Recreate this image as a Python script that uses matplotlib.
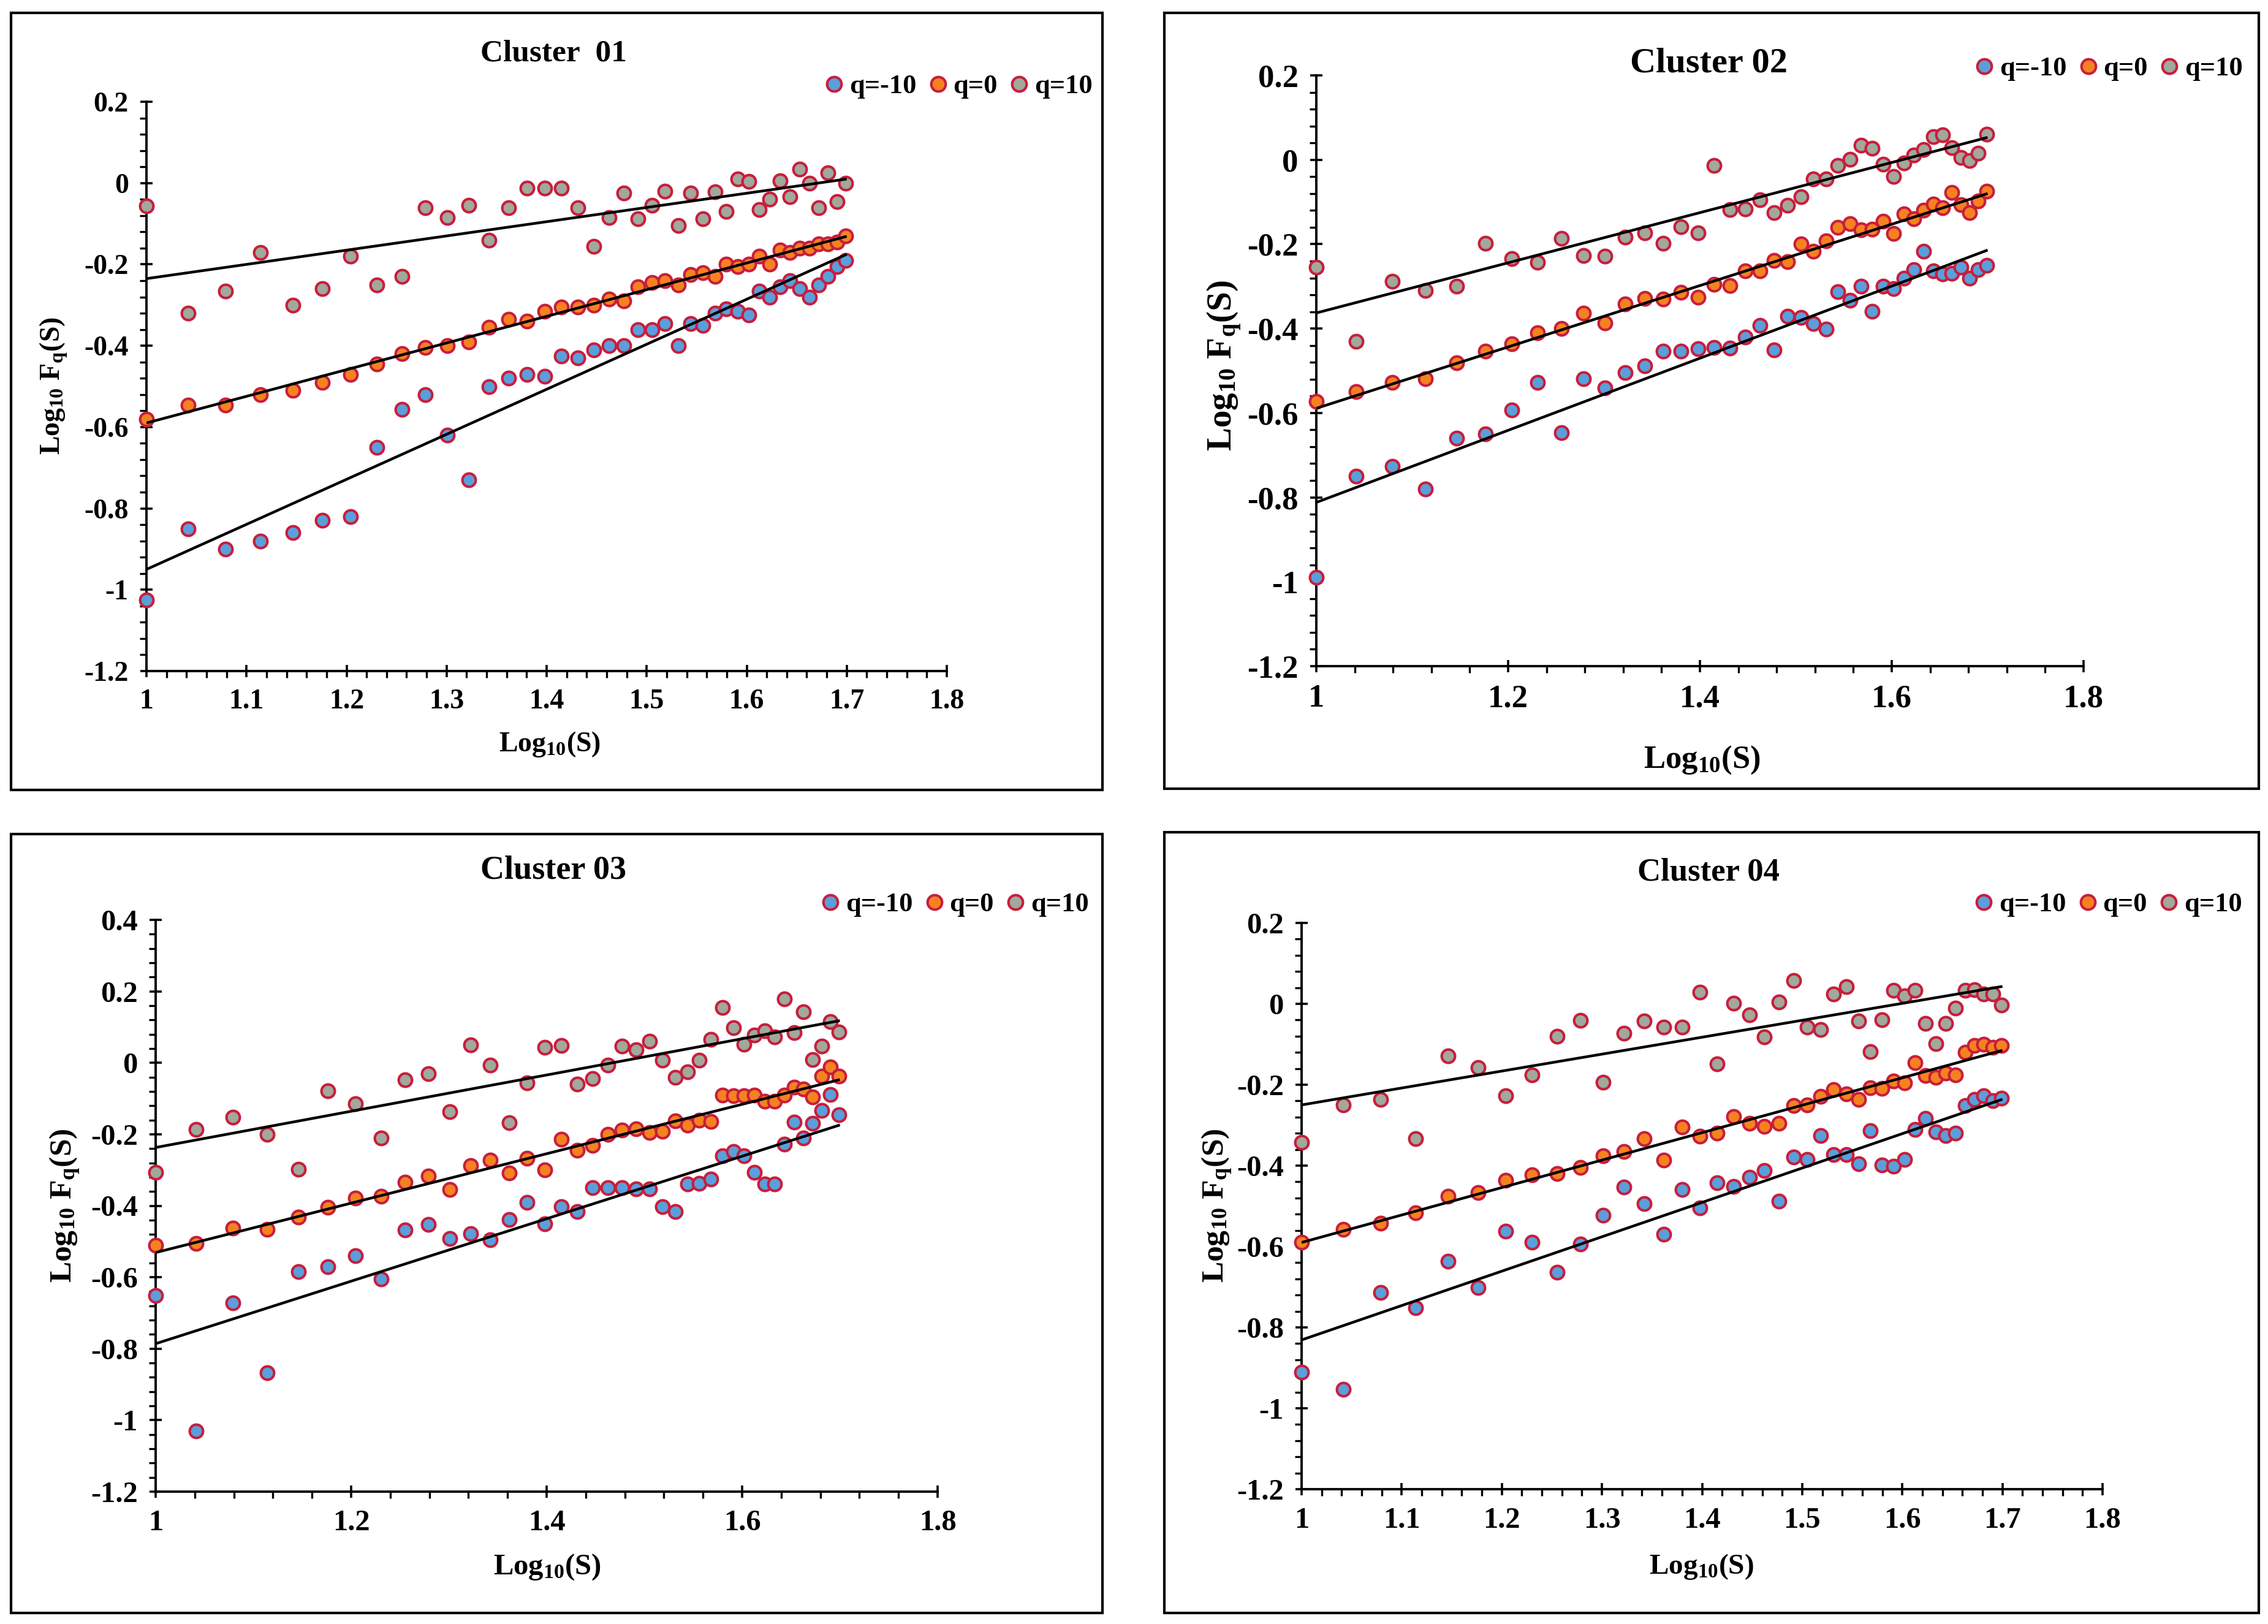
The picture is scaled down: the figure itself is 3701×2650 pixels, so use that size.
import numpy as np
import matplotlib
matplotlib.use("Agg")
import matplotlib.pyplot as plt
from matplotlib.patches import Rectangle
from matplotlib.lines import Line2D
from matplotlib.ticker import MultipleLocator, FuncFormatter

plt.rcParams['font.family'] = ['Liberation Serif', 'DejaVu Serif']
plt.rcParams['font.weight'] = 'bold'
plt.rcParams['axes.unicode_minus'] = False
plt.rcParams['mathtext.fontset'] = 'custom'
plt.rcParams['mathtext.rm'] = 'Liberation Serif:bold'
plt.rcParams['mathtext.it'] = 'Liberation Serif:italic:bold'
plt.rcParams['mathtext.bf'] = 'Liberation Serif:bold'

# ---------------- data ----------------
scales = [10, 11, 12, 13, 14, 15, 16, 17, 18, 19, 20, 21, 22, 23, 24, 25, 26, 27, 28, 29, 30,
          31, 32, 33, 34, 35, 36, 37, 38, 39, 40, 41, 42, 43, 44, 45, 46, 47, 48, 49, 50]
series_labels = ["q=-10", "q=0", "q=10"]
titles = ["Cluster  01", "Cluster 02", "Cluster 03", "Cluster 04"]

c1_qm10 = [-1.025, -0.85, -0.90, -0.88, -0.86, -0.83, -0.82, -0.65, -0.556, -0.52, -0.62, -0.73, -0.50, -0.48,
           -0.47, -0.475, -0.425, -0.43, -0.41, -0.40, -0.40, -0.36, -0.36, -0.345, -0.40, -0.345, -0.35, -0.32,
           -0.31, -0.315, -0.325, -0.265, -0.28, -0.255, -0.24, -0.26, -0.28, -0.25, -0.23, -0.205, -0.19]
c1_q0 = [-0.58, -0.546, -0.546, -0.52, -0.51, -0.49, -0.47, -0.445, -0.42, -0.405, -0.40, -0.39, -0.355, -0.335,
         -0.34, -0.315, -0.305, -0.305, -0.30, -0.285, -0.29, -0.255, -0.245, -0.24, -0.25, -0.225, -0.22, -0.23,
         -0.20, -0.205, -0.20, -0.18, -0.20, -0.165, -0.17, -0.16, -0.16, -0.15, -0.15, -0.145, -0.13]
c1_q10 = [-0.056, -0.32, -0.265, -0.17, -0.30, -0.26, -0.18, -0.25, -0.23, -0.06, -0.085, -0.055, -0.14, -0.06,
          -0.012, -0.012, -0.012, -0.06, -0.155, -0.085, -0.025, -0.088, -0.055, -0.02, -0.105, -0.025, -0.088,
          -0.022, -0.07, 0.01, 0.004, -0.065, -0.04, 0.005, -0.034, 0.034, 0.0, -0.06, 0.025, -0.046, 0.0]

c2_qm10 = [-0.99, -0.75, -0.727, -0.78, -0.66, -0.65, -0.593, -0.528, -0.646, -0.519, -0.541, -0.504, -0.488,
           -0.454, -0.454, -0.448, -0.445, -0.446, -0.42, -0.393, -0.45, -0.371, -0.373, -0.388, -0.401, -0.313,
           -0.333, -0.30, -0.359, -0.30, -0.305, -0.281, -0.26, -0.217, -0.264, -0.27, -0.269, -0.255, -0.281,
           -0.261, -0.25]
c2_q0 = [-0.573, -0.549, -0.528, -0.519, -0.481, -0.453, -0.436, -0.41, -0.40, -0.363, -0.386, -0.342, -0.329,
         -0.33, -0.314, -0.325, -0.295, -0.298, -0.264, -0.263, -0.239, -0.242, -0.20, -0.217, -0.192, -0.16,
         -0.152, -0.166, -0.164, -0.145, -0.175, -0.128, -0.14, -0.12, -0.105, -0.113, -0.077, -0.106, -0.125,
         -0.098, -0.075]
c2_q10 = [-0.255, -0.43, -0.288, -0.31, -0.30, -0.198, -0.234, -0.243, -0.186, -0.227, -0.229, -0.183, -0.173,
          -0.198, -0.158, -0.173, -0.014, -0.118, -0.117, -0.095, -0.126, -0.108, -0.087, -0.046, -0.046, -0.013,
          0.001, 0.034, 0.027, -0.01, -0.039, -0.007, 0.011, 0.024, 0.055, 0.059, 0.029, 0.005, -0.002, 0.016, 0.06]

c3_qm10 = [-0.651, -1.03, -0.671, -0.867, -0.585, -0.57, -0.539, -0.605, -0.468, -0.453, -0.491, -0.478, -0.495,
           -0.439, -0.39, -0.45, -0.403, -0.416, -0.35, -0.35, -0.35, -0.353, -0.353, -0.403, -0.416, -0.339,
           -0.337, -0.326, -0.26, -0.248, -0.26, -0.307, -0.339, -0.339, -0.228, -0.166, -0.211, -0.169, -0.133,
           -0.088, -0.145]
c3_q0 = [-0.511, -0.506, -0.463, -0.466, -0.432, -0.405, -0.379, -0.374, -0.334, -0.317, -0.354, -0.288, -0.273,
         -0.308, -0.267, -0.30, -0.214, -0.244, -0.231, -0.201, -0.189, -0.185, -0.195, -0.191, -0.162, -0.174,
         -0.161, -0.165, -0.09, -0.093, -0.093, -0.09, -0.108, -0.108, -0.09, -0.069, -0.073, -0.095, -0.037,
         -0.011, -0.037]
c3_q10 = [-0.307, -0.187, -0.152, -0.20, -0.298, -0.079, -0.115, -0.211, -0.047, -0.03, -0.136, 0.05, -0.006,
          -0.168, -0.057, 0.043, 0.049, -0.059, -0.044, -0.006, 0.047, 0.036, 0.06, 0.007, -0.04, -0.026, 0.007,
          0.065, 0.154, 0.098, 0.052, 0.077, 0.09, 0.072, 0.178, 0.085, 0.142, 0.009, 0.046, 0.115, 0.086]

c4_qm10 = [-0.911, -0.953, -0.713, -0.752, -0.636, -0.702, -0.562, -0.589, -0.664, -0.594, -0.522, -0.453, -0.494,
           -0.569, -0.459, -0.504, -0.442, -0.451, -0.429, -0.412, -0.488, -0.379, -0.385, -0.326, -0.372, -0.372,
           -0.396, -0.313, -0.398, -0.402, -0.385, -0.31, -0.284, -0.317, -0.326, -0.32, -0.252, -0.237, -0.227,
           -0.239, -0.233]
c4_q0 = [-0.589, -0.557, -0.543, -0.517, -0.475, -0.467, -0.436, -0.423, -0.419, -0.404, -0.376, -0.365, -0.333,
         -0.386, -0.305, -0.328, -0.319, -0.279, -0.296, -0.303, -0.296, -0.251, -0.25, -0.229, -0.212, -0.222,
         -0.236, -0.208, -0.209, -0.191, -0.196, -0.146, -0.177, -0.182, -0.171, -0.175, -0.119, -0.103, -0.10,
         -0.108, -0.103]
c4_q10 = [-0.343, -0.25, -0.236, -0.333, -0.129, -0.158, -0.228, -0.175, -0.08, -0.041, -0.194, -0.072, -0.042,
          -0.057, -0.057, 0.029, -0.148, 0.001, -0.027, -0.082, 0.005, 0.058, -0.057, -0.063, 0.024, 0.042, -0.042,
          -0.118, -0.039, 0.033, 0.02, 0.034, -0.048, -0.099, -0.048, -0.011, 0.033, 0.035, 0.024, 0.025, -0.003]

# fitted regression lines: value at log10(S)=1 and at log10(S)=1.7 (q=-10, q=0, q=10)
fit_x = [1.0, 1.7]
c1_fit_start = [-0.95, -0.59, -0.235]
c1_fit_end = [-0.175, -0.131, 0.01]
c2_fit_start = [-0.812, -0.589, -0.363]
c2_fit_end = [-0.214, -0.08, 0.053]
c3_fit_start = [-0.786, -0.531, -0.237]
c3_fit_end = [-0.174, -0.047, 0.118]
c4_fit_start = [-0.831, -0.59, -0.25]
c4_fit_end = [-0.236, -0.115, 0.043]

clusters = [
    ([c1_qm10, c1_q0, c1_q10], c1_fit_start, c1_fit_end),
    ([c2_qm10, c2_q0, c2_q10], c2_fit_start, c2_fit_end),
    ([c3_qm10, c3_q0, c3_q10], c3_fit_start, c3_fit_end),
    ([c4_qm10, c4_q0, c4_q10], c4_fit_start, c4_fit_end),
]

# ---------------- style / layout ----------------
W, H = 3701, 2650
face_colors = ["#5A9FDC", "#F5821F", "#A1A89C"]
edge_color = "#C81E3C"

layout = [
    dict(frame=(18, 21, 1799, 1289), ax=(239, 166, 1545, 1095), ylim=(-1.2, 0.2), xmaj=0.1, xmin=0.02,
         title=(903, 87, 37), leg=(1563, 141), xl=(897, 1215, 33), yl=(88, 630, 33), tick=33),
    dict(frame=(1900, 21, 3686, 1287), ax=(2148, 123, 3400, 1087), ylim=(-1.2, 0.2), xmaj=0.2, xmin=0.04,
         title=(2788, 104, 42), leg=(3440, 112), xl=(2777, 1240, 38), yl=(1998, 597, 41), tick=38),
    dict(frame=(18, 1361, 1799, 2632), ax=(254, 1501, 1530, 2434), ylim=(-1.2, 0.4), xmaj=0.2, xmin=0.04,
         title=(903, 1421, 39), leg=(1557, 1476), xl=(893, 2557, 35), yl=(106, 1967, 37), tick=35),
    dict(frame=(1900, 1358, 3686, 2632), ax=(2124, 1506, 3431, 2430), ylim=(-1.2, 0.2), xmaj=0.1, xmin=0.02,
         title=(2788, 1424, 38), leg=(3439, 1476), xl=(2776, 2557, 34), yl=(1986, 1967, 37), tick=35),
]

fig = plt.figure(figsize=(W / 100, H / 100), dpi=100)
fig.patch.set_facecolor("white")

x = np.log10(np.array(scales, dtype=float))


def fmt(v, pos):
    s = f"{v:.1f}".rstrip("0").rstrip(".")
    if s in ("-0", ""):
        s = "0"
    return s


for (series, fs, fe), title, L in zip(clusters, titles, layout):
    fx0, fy0, fx1, fy1 = L["frame"]
    fig.add_artist(Rectangle((fx0 / W, 1 - fy1 / H), (fx1 - fx0) / W, (fy1 - fy0) / H,
                             transform=fig.transFigure, fill=False, lw=3.0, ec="black", zorder=0))
    ax0, ay0, ax1, ay1 = L["ax"]
    ax = fig.add_axes([ax0 / W, 1 - ay1 / H, (ax1 - ax0) / W, (ay1 - ay0) / H])
    ax.set_facecolor("none")
    for sp in ("top", "right"):
        ax.spines[sp].set_visible(False)
    for sp in ("left", "bottom"):
        ax.spines[sp].set_linewidth(2.8)
    ax.set_xlim(1.0, 1.8)
    ax.set_ylim(*L["ylim"])
    ax.xaxis.set_major_locator(MultipleLocator(L["xmaj"]))
    ax.xaxis.set_minor_locator(MultipleLocator(L["xmin"]))
    ax.yaxis.set_major_locator(MultipleLocator(0.2))
    ax.yaxis.set_minor_locator(MultipleLocator(0.04))
    ax.xaxis.set_major_formatter(FuncFormatter(fmt))
    ax.yaxis.set_major_formatter(FuncFormatter(fmt))
    ax.tick_params(which="major", direction="inout", length=14, width=2.6, labelsize=L["tick"], pad=14)
    ax.tick_params(which="minor", direction="out", length=8, width=2.4)
    for lab in ax.get_xticklabels() + ax.get_yticklabels():
        lab.set_fontweight("bold")

    for ys, fc in zip(series, face_colors):
        ax.scatter(x, ys, s=245, facecolor=fc, edgecolor=edge_color, linewidth=3.0, zorder=3, clip_on=False)
    for y0, y1 in zip(fs, fe):
        ax.plot(fit_x, [y0, y1], color="black", lw=3.2, zorder=4, solid_capstyle="butt")

    tx, ty, tsz = L["title"]
    fig.text(tx / W, 1 - ty / H, title, ha="center", va="center", fontsize=tsz, fontweight="bold")
    xx, xy, xsz = L["xl"]
    fig.text(xx / W, 1 - xy / H, r"Log$_{\mathrm{10}}$(S)", ha="center", va="center", fontsize=xsz,
             fontweight="bold")
    yx, yy, ysz = L["yl"]
    fig.text(yx / W, 1 - yy / H, r"Log$_{\mathrm{10}}$ F$_{\mathrm{q}}$(S)", ha="center", va="center",
             fontsize=ysz, fontweight="bold", rotation=90)

    handles = [Line2D([], [], ls="none", marker="o", markersize=17, markerfacecolor=fc,
                      markeredgecolor=edge_color, markeredgewidth=3.0) for fc in face_colors]
    lx, ly = L["leg"]
    fig.legend(handles, series_labels, loc="center", bbox_to_anchor=(lx / W, 1 - ly / H),
               bbox_transform=fig.transFigure, ncol=3, frameon=False,
               handletextpad=0.15, columnspacing=0.4, handlelength=0.8, borderpad=0.0,
               prop=dict(family=['Liberation Serif', 'DejaVu Serif'], weight="bold", size=32))

fig.savefig("out.png", dpi=100, facecolor="white")
